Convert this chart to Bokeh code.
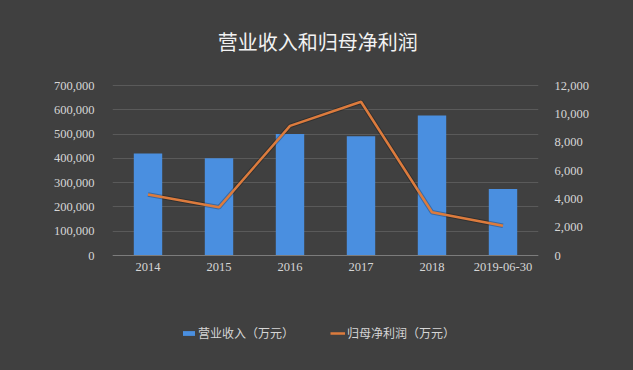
from bokeh.plotting import figure
from bokeh.models import (ColumnDataSource, FactorRange, Range1d, LinearAxis,
                          NumeralTickFormatter, FixedTicker, Legend, LegendItem, Label)
from bokeh.embed import file_html
from bokeh.resources import INLINE

title_text = "营业收入和归母净利润"
categories = ["2014", "2015", "2016", "2017", "2018", "2019-06-30"]
revenue = [420000, 400000, 500000, 491000, 576000, 274000]
net_profit = [4300, 3400, 9150, 10850, 3050, 2100]
left_ticks = [0, 100000, 200000, 300000, 400000, 500000, 600000, 700000]
right_ticks = [0, 2000, 4000, 6000, 8000, 10000, 12000]
left_max = 700000
right_max = 12000

src = ColumnDataSource(dict(cat=categories, rev=revenue, np=net_profit))

BG = "#404040"
TXT = "#d6d6d6"
NUMFONT = "Liberation Serif"
CJK = "Noto Sans CJK SC"

# layout (figure pixels): frame spans the full height, data area between
W, H = 617, 354
frame_bottom = H
data_top, data_bottom = 85, 255
px = data_bottom - data_top
l_end = left_max * (1 + data_top / px)
l_start = -left_max * (frame_bottom - data_bottom) / px
r_end = right_max * (1 + data_top / px)
r_start = -right_max * (frame_bottom - data_bottom) / px

p = figure(width=W, height=H, output_backend="svg", toolbar_location=None,
           x_range=FactorRange(*categories, range_padding=0),
           y_range=Range1d(l_start, l_end))
p.extra_y_ranges = {"np": Range1d(r_start, r_end)}

p.background_fill_color = BG
p.border_fill_color = BG
p.outline_line_color = None
p.min_border_left = 112
p.min_border_right = 79
p.min_border_top = 0
p.min_border_bottom = 0

bars = p.vbar(x="cat", top="rev", width=0.4, source=src,
              fill_color="#4a8fe0", line_color=None)
p.line(x="cat", y="np", source=src, y_range_name="np",
       line_color="#000000", line_alpha=0.25, line_width=4.5)
line = p.line(x="cat", y="np", source=src, y_range_name="np",
              line_color="#dc7b3d", line_width=2.5)

# axes
p.yaxis.ticker = FixedTicker(ticks=left_ticks)
p.yaxis.formatter = NumeralTickFormatter(format="0,0")
ra = LinearAxis(y_range_name="np", ticker=FixedTicker(ticks=right_ticks),
                formatter=NumeralTickFormatter(format="0,0"))
p.add_layout(ra, "right")

for ax in [p.yaxis[0], ra]:
    ax.axis_line_color = None
    ax.major_tick_line_color = None
    ax.minor_tick_line_color = None
    ax.major_label_text_color = TXT
    ax.major_label_text_font = NUMFONT
    ax.major_label_text_font_size = "12.5px"

p.yaxis[0].major_label_standoff = 12
ra.major_label_standoff = 10

p.xaxis.fixed_location = 0
p.xaxis.axis_line_color = "#7c7c7c"
p.xaxis.major_tick_line_color = None
p.xaxis.minor_tick_line_color = None
p.xaxis.major_label_text_color = TXT
p.xaxis.major_label_text_font = NUMFONT
p.xaxis.major_label_text_font_size = "12.5px"
p.xaxis.major_label_standoff = 1

p.xgrid.grid_line_color = None
p.ygrid.grid_line_color = "#5a5a5a"
p.ygrid.grid_line_width = 1

# title
title_y = left_max * (1 + (data_top - 41) / px)
p.add_layout(Label(x=2.89, y=title_y, text=title_text, text_font=CJK,
                   text_font_size="20px", text_color="#f2f2f2",
                   text_align="center", text_baseline="middle"))

legend = Legend(items=[LegendItem(label="营业收入（万元）", renderers=[bars]),
                       LegendItem(label="归母净利润（万元）", renderers=[line])],
                orientation="horizontal", location=(69, 13),
                background_fill_alpha=0, border_line_color=None,
                label_text_font=CJK, label_text_font_size="12px",
                label_text_color=TXT, glyph_width=15, glyph_height=6,
                spacing=36, label_standoff=2, margin=0, padding=0)
p.add_layout(legend, "center")

html = file_html(p, INLINE)
html = html.replace("<head>", "<head><style>html,body{background:#404040;}</style>", 1)
open("out.html", "w").write(html)
